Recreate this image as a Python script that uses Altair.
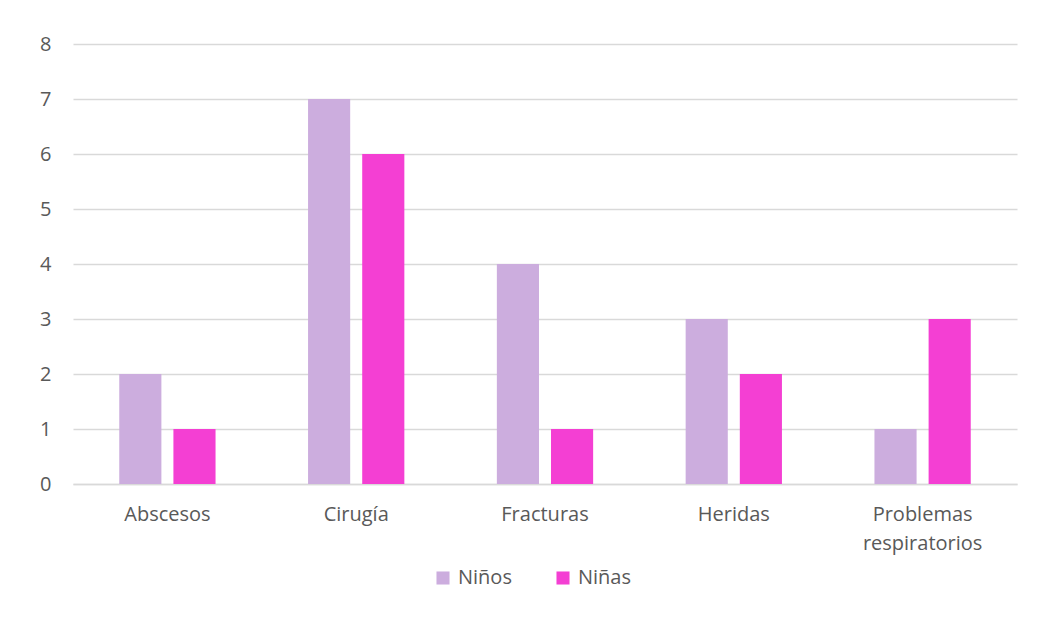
import altair as alt
import pandas as pd

categories = ["Abscesos", "Cirugía", "Fracturas", "Heridas", "Problemas respiratorios"]
series = ["Niños", "Niñas"]
ninos = [2, 7, 4, 3, 1]
ninas = [1, 6, 1, 2, 3]
colors = ["#CCADDE", "#F43FD3"]

rows = []
for c, a, b in zip(categories, ninos, ninas):
    rows.append({"categoria": c, "grupo": "Niños", "valor": a})
    rows.append({"categoria": c, "grupo": "Niñas", "valor": b})
df = pd.DataFrame(rows)

FONT = "Open Sans"
LABEL = dict(labelFont=FONT, labelFontSize=20, labelColor="#595959")

chart = alt.Chart(df).mark_bar().encode(
    x=alt.X("categoria:N", sort=categories, title=None,
            scale=alt.Scale(paddingInner=0.49, paddingOuter=0.245),
            axis=alt.Axis(labelAngle=0, ticks=False, domain=True, domainColor="#d9d9d9",
                          domainWidth=1.5, labelPadding=20, grid=False,
                          labelExpr="split(datum.label, ' ')", labelLineHeight=29, **LABEL)),
    xOffset=alt.XOffset("grupo:N", sort=series, scale=alt.Scale(paddingInner=0.222)),
    y=alt.Y("valor:Q", title=None,
            scale=alt.Scale(domain=[0, 8], nice=False),
            axis=alt.Axis(values=list(range(0, 9)), ticks=False, domain=False,
                          gridColor="#d9d9d9", gridWidth=1.5, labelPadding=22, **LABEL)),
    color=alt.Color("grupo:N", sort=series, title=None,
                    scale=alt.Scale(domain=series, range=colors),
                    legend=alt.Legend(orient="none", legendX=360, legendY=524,
                                      direction="horizontal", symbolType="square",
                                      symbolSize=170, symbolStrokeWidth=0,
                                      columnPadding=41, labelFontSize=20, labelFont=FONT,
                                      labelColor="#595959", symbolOffset=0, labelOffset=5)),
).properties(
    width=944, height=440,
    background="white",
    autosize=alt.AutoSizeParams(type="none"),
    padding={"left": 65, "top": 36, "right": 17, "bottom": 140},
).configure_view(stroke=None)

chart.save("out.html", embed_options={"renderer": "svg", "actions": False})
